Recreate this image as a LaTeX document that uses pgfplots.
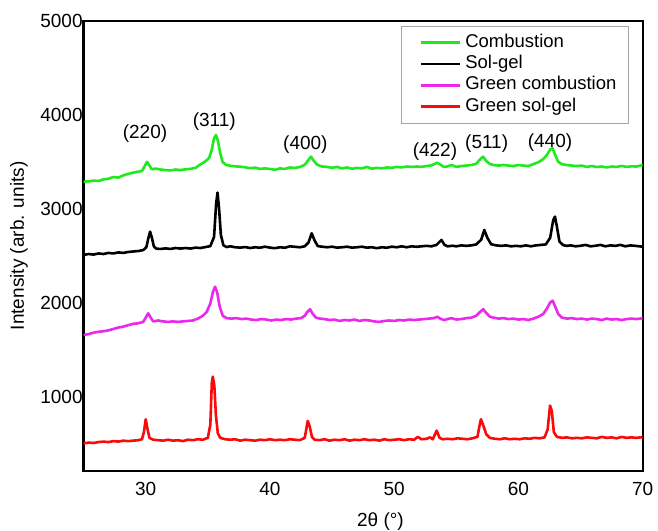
\documentclass[border=0pt]{standalone}
\usepackage{fontspec}
\setmainfont{Liberation Sans}
\usepackage{pgfplots}
\pgfplotsset{compat=1.18}
\definecolor{cgreen}{RGB}{30,235,30}
\definecolor{cmag}{RGB}{235,40,235}
\definecolor{cred}{RGB}{250,10,10}
\begin{document}
\begin{tikzpicture}
\begin{axis}[
 scale only axis, width=559.1bp, height=449.7bp,
 xmin=25, xmax=70, ymin=210, ymax=5000,
 xtick={30,40,50,60,70}, ytick={1000,2000,3000,4000,5000},
 major tick length=0pt,
 axis line style={line width=2.2bp},
 /pgf/number format/assume math mode=true,
 /pgf/number format/set thousands separator={},
 ticklabel style={font=\fontsize{19bp}{22bp}\selectfont},
 xticklabel style={yshift=-8bp},
 yticklabel style={xshift=2.5bp},
 xlabel={2θ (°)}, ylabel={Intensity (arb. units)},
 label style={font=\fontsize{19bp}{22bp}\selectfont},
 xlabel style={at={(axis description cs:0.531,-0.1134)}, anchor=center},
 ylabel style={at={(axis description cs:-0.1155,0.5)}, anchor=center},
 legend image code/.code={\path (-8bp,0bp); \draw[#1, line width=2.6bp] (0bp,0bp) -- (39bp,0bp);},
 legend cell align=left,
 legend style={at={(axis description cs:0.9745,0.9889)}, anchor=north east,
   draw=gray!70, line width=0.8bp, inner xsep=10.6bp, inner ysep=6.9bp, row sep=2.3bp,
   font=\fontsize{18.5bp}{22bp}\selectfont,
   nodes={inner xsep=1bp, inner ysep=1bp, text height=13bp, text depth=4bp},
   /tikz/every odd column/.append style={column sep=3bp}},
 every axis plot/.append style={line width=2.6bp, line join=round},
]
\addplot[cgreen] coordinates {
(25.0,3289)(25.4,3292)(25.8,3300)(26.2,3296)(26.6,3312)(27.0,3320)(27.4,3338)(27.8,3332)(28.2,3356)(28.6,3372)(29.0,3385)(29.4,3395)(29.7,3402)(29.9,3450)(30.1,3500)(30.3,3460)(30.5,3420)(30.8,3428)(31.2,3418)(31.6,3412)(32.0,3408)(32.4,3418)(32.8,3412)(33.2,3420)(33.6,3425)(34.0,3435)(34.4,3472)(34.8,3505)(35.1,3540)(35.3,3620)(35.5,3750)(35.65,3786)(35.8,3730)(36.0,3590)(36.2,3495)(36.5,3465)(36.8,3458)(37.2,3452)(37.6,3448)(38.0,3442)(38.4,3432)(38.8,3438)(39.2,3425)(39.6,3430)(40.0,3424)(40.4,3415)(40.8,3430)(41.2,3424)(41.6,3440)(42.0,3435)(42.4,3445)(42.8,3468)(43.1,3520)(43.3,3555)(43.5,3515)(43.8,3468)(44.2,3450)(44.6,3446)(45.0,3436)(45.4,3446)(45.8,3430)(46.2,3440)(46.6,3426)(47.0,3436)(47.4,3430)(47.8,3446)(48.2,3426)(48.6,3436)(49.0,3430)(49.4,3440)(49.8,3436)(50.2,3446)(50.6,3440)(51.0,3450)(51.4,3446)(51.8,3450)(52.2,3446)(52.6,3455)(53.0,3462)(53.45,3490)(53.75,3468)(54.0,3445)(54.3,3452)(54.6,3466)(55.0,3446)(55.4,3455)(55.8,3460)(56.2,3466)(56.6,3478)(56.9,3525)(57.15,3555)(57.4,3510)(57.7,3476)(58.0,3466)(58.4,3460)(58.8,3466)(59.2,3460)(59.6,3455)(60.0,3466)(60.4,3460)(60.8,3455)(61.2,3476)(61.6,3495)(62.0,3530)(62.3,3575)(62.55,3630)(62.75,3644)(62.95,3575)(63.2,3500)(63.5,3475)(63.9,3465)(64.3,3460)(64.7,3455)(65.1,3460)(65.5,3445)(65.9,3455)(66.3,3445)(66.7,3450)(67.1,3440)(67.5,3450)(67.9,3446)(68.3,3456)(68.7,3446)(69.1,3452)(69.5,3450)(70.0,3466)
};
\addlegendentry{Combustion}
\addplot[black] coordinates {
(25.0,2508)(25.4,2518)(25.8,2512)(26.2,2524)(26.6,2518)(27.0,2530)(27.4,2524)(27.8,2535)(28.2,2530)(28.6,2540)(29.0,2545)(29.4,2550)(29.8,2560)(30.05,2590)(30.2,2680)(30.35,2756)(30.5,2690)(30.65,2600)(30.85,2575)(31.2,2572)(31.6,2578)(32.0,2572)(32.4,2582)(32.8,2576)(33.2,2582)(33.6,2576)(34.0,2586)(34.4,2582)(34.8,2592)(35.2,2602)(35.5,2700)(35.67,3060)(35.78,3172)(35.9,3010)(36.05,2720)(36.25,2612)(36.5,2592)(36.8,2600)(37.2,2590)(37.6,2586)(38.0,2592)(38.4,2582)(38.8,2590)(39.2,2585)(39.6,2596)(40.0,2586)(40.4,2580)(40.8,2590)(41.2,2585)(41.6,2600)(42.0,2595)(42.4,2590)(42.8,2600)(43.1,2640)(43.36,2739)(43.58,2665)(43.85,2602)(44.2,2596)(44.6,2590)(45.0,2596)(45.4,2586)(45.8,2590)(46.2,2596)(46.6,2586)(47.0,2590)(47.4,2596)(47.8,2586)(48.2,2590)(48.6,2580)(49.0,2590)(49.4,2585)(49.8,2596)(50.2,2590)(50.6,2600)(51.0,2590)(51.4,2600)(51.8,2595)(52.2,2600)(52.6,2605)(53.0,2600)(53.4,2615)(53.8,2668)(54.05,2615)(54.3,2600)(54.7,2606)(55.0,2600)(55.4,2610)(55.8,2605)(56.2,2610)(56.6,2620)(57.0,2670)(57.25,2774)(57.5,2690)(57.8,2622)(58.2,2610)(58.6,2605)(59.0,2610)(59.4,2600)(59.8,2605)(60.2,2600)(60.6,2610)(61.0,2600)(61.4,2610)(61.8,2615)(62.2,2620)(62.55,2690)(62.8,2880)(62.94,2916)(63.08,2820)(63.3,2650)(63.6,2612)(63.9,2605)(64.2,2610)(64.6,2600)(65.0,2606)(65.4,2615)(65.8,2600)(66.2,2606)(66.6,2615)(67.0,2600)(67.4,2610)(67.8,2605)(68.2,2615)(68.6,2600)(69.0,2610)(69.4,2605)(70.0,2596)
};
\addlegendentry{Sol-gel}
\addplot[cmag] coordinates {
(25.0,1656)(25.4,1665)(25.8,1680)(26.2,1690)(26.6,1695)(27.0,1705)(27.4,1720)(27.8,1735)(28.2,1745)(28.6,1760)(29.0,1775)(29.4,1780)(29.8,1795)(30.0,1840)(30.2,1887)(30.4,1840)(30.6,1800)(31.0,1810)(31.4,1800)(31.8,1795)(32.2,1800)(32.6,1795)(33.0,1800)(33.4,1805)(33.8,1810)(34.2,1830)(34.6,1860)(34.9,1900)(35.2,1990)(35.4,2110)(35.58,2170)(35.75,2110)(35.95,1960)(36.2,1860)(36.5,1835)(36.9,1830)(37.3,1835)(37.7,1825)(38.1,1830)(38.5,1820)(38.9,1815)(39.3,1825)(39.7,1820)(40.1,1810)(40.5,1820)(40.9,1815)(41.3,1825)(41.7,1820)(42.1,1830)(42.5,1835)(42.8,1860)(43.0,1900)(43.22,1930)(43.45,1880)(43.7,1840)(44.0,1830)(44.4,1825)(44.8,1815)(45.2,1820)(45.6,1805)(46.0,1815)(46.4,1810)(46.8,1820)(47.2,1805)(47.6,1815)(48.0,1810)(48.4,1800)(48.8,1795)(49.2,1805)(49.6,1810)(50.0,1805)(50.4,1815)(50.8,1810)(51.2,1820)(51.6,1815)(52.0,1820)(52.4,1825)(52.8,1830)(53.2,1835)(53.47,1850)(53.7,1830)(54.0,1815)(54.3,1825)(54.6,1835)(55.0,1820)(55.4,1825)(55.8,1835)(56.2,1840)(56.6,1860)(56.9,1900)(57.17,1930)(57.4,1890)(57.7,1850)(58.0,1840)(58.4,1830)(58.8,1835)(59.2,1825)(59.6,1830)(60.0,1820)(60.4,1825)(60.8,1815)(61.2,1830)(61.6,1850)(62.0,1880)(62.3,1940)(62.55,2000)(62.75,2021)(62.95,1960)(63.2,1880)(63.5,1840)(63.9,1830)(64.3,1835)(64.7,1825)(65.1,1830)(65.5,1820)(65.9,1830)(66.3,1825)(66.7,1815)(67.1,1830)(67.5,1820)(67.9,1825)(68.3,1815)(68.7,1825)(69.1,1830)(69.5,1825)(70.0,1834)
};
\addlegendentry{Green combustion}
\addplot[cred] coordinates {
(25.0,500)(25.4,510)(25.8,505)(26.2,515)(26.6,520)(27.0,515)(27.4,525)(27.8,520)(28.2,530)(28.6,525)(29.0,530)(29.4,535)(29.7,545)(29.85,620)(30.0,758)(30.15,650)(30.3,560)(30.6,540)(31.0,535)(31.4,530)(31.8,540)(32.2,530)(32.6,535)(33.0,525)(33.4,540)(33.8,535)(34.2,545)(34.6,540)(35.0,560)(35.2,700)(35.32,1150)(35.4,1212)(35.52,1120)(35.65,800)(35.8,610)(36.0,560)(36.4,545)(36.8,540)(37.2,545)(37.6,530)(38.0,540)(38.4,535)(38.8,530)(39.2,540)(39.6,535)(40.0,545)(40.4,535)(40.8,540)(41.2,535)(41.6,545)(42.0,540)(42.4,535)(42.8,560)(43.04,740)(43.2,680)(43.38,570)(43.6,540)(44.0,535)(44.4,545)(44.8,530)(45.2,540)(45.6,535)(46.0,545)(46.4,530)(46.8,540)(47.2,535)(47.6,545)(48.0,535)(48.4,540)(48.8,530)(49.2,545)(49.6,535)(50.0,540)(50.4,545)(50.8,535)(51.2,545)(51.6,540)(51.9,570)(52.2,545)(52.6,550)(52.9,565)(53.1,545)(53.42,637)(53.65,560)(53.9,545)(54.3,550)(54.7,545)(55.1,555)(55.5,550)(55.9,545)(56.3,555)(56.7,570)(56.85,680)(56.98,758)(57.2,680)(57.4,600)(57.7,560)(58.1,550)(58.5,545)(58.9,555)(59.3,545)(59.7,550)(60.1,545)(60.5,555)(60.9,550)(61.3,560)(61.7,555)(62.1,565)(62.35,650)(62.54,903)(62.68,850)(62.85,620)(63.1,570)(63.5,560)(63.9,565)(64.3,555)(64.7,560)(65.1,555)(65.5,565)(65.9,560)(66.3,555)(66.7,570)(67.1,560)(67.5,565)(67.9,555)(68.3,570)(68.7,560)(69.1,565)(69.5,560)(70.0,567)
};
\addlegendentry{Green sol-gel}
\begin{scope}[every node/.style={font=\fontsize{19bp}{22bp}\selectfont}]
\node at (axis cs:29.94,3804) {(220)};
\node at (axis cs:35.52,3928) {(311)};
\node at (axis cs:42.85,3680) {(400)};
\node at (axis cs:53.28,3608) {(422)};
\node at (axis cs:57.44,3690) {(511)};
\node at (axis cs:62.54,3704) {(440)};
\end{scope}
\end{axis}
\pgfresetboundingbox
\path[use as bounding box] ([shift={(-83.6bp,-60.3bp)}]current axis.south west) rectangle ([shift={(15.3bp,21bp)}]current axis.north east);
\end{tikzpicture}
\end{document}
